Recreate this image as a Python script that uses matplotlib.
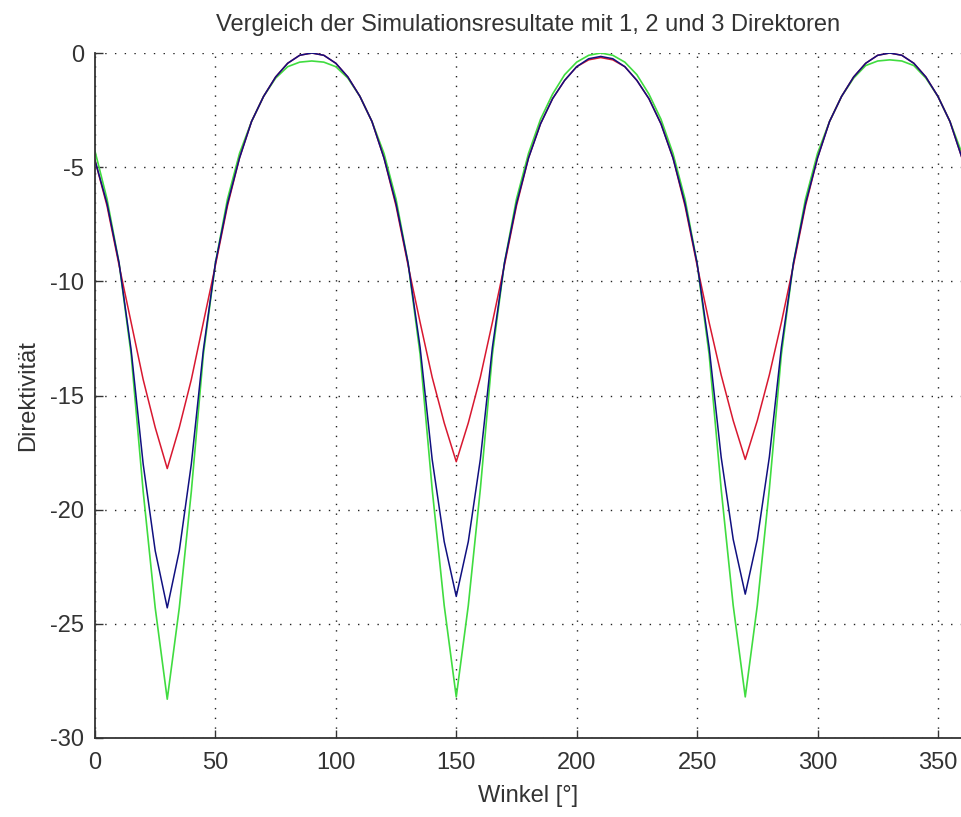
import numpy as np
import matplotlib
matplotlib.use("Agg")
import matplotlib.pyplot as plt

# Winkel in Grad (5 Grad Schritte)
winkel = list(range(0, 365, 5))

# 1 Direktor (rot)
dir1 = [-4.7, -6.7, -9.3, -11.8, -14.3, -16.4, -18.2, -16.4, -14.3, -11.8, -9.3, -6.7,
        -4.6, -3.0, -1.9, -1.05, -0.45, -0.1, 0.0, -0.1, -0.45, -1.05, -1.9, -3.0,
        -4.6, -6.7, -9.3, -11.8, -14.2, -16.2, -17.9, -16.2, -14.2, -11.8, -9.3, -6.7,
        -4.6, -3.1, -2.0, -1.2, -0.6, -0.3, -0.2, -0.3, -0.6, -1.2, -2.0, -3.1,
        -4.6, -6.7, -9.3, -11.8, -14.1, -16.1, -17.8, -16.1, -14.1, -11.8, -9.3, -6.7,
        -4.6, -3.0, -1.9, -1.05, -0.45, -0.1, 0.0, -0.1, -0.45, -1.05, -1.9, -3.0,
        -4.6]

# 2 Direktoren (blau)
dir2 = [-4.7, -6.6, -9.2, -13.0, -18.0, -21.8, -24.3, -21.8, -18.0, -13.0, -9.2, -6.6,
        -4.6, -3.0, -1.9, -1.05, -0.45, -0.1, 0.0, -0.1, -0.45, -1.05, -1.9, -3.0,
        -4.6, -6.6, -9.2, -12.9, -17.8, -21.4, -23.8, -21.4, -17.8, -12.9, -9.2, -6.6,
        -4.6, -3.1, -2.0, -1.2, -0.6, -0.25, -0.15, -0.25, -0.6, -1.2, -2.0, -3.1,
        -4.6, -6.6, -9.2, -12.9, -17.7, -21.3, -23.7, -21.3, -17.7, -12.9, -9.2, -6.6,
        -4.6, -3.0, -1.9, -1.05, -0.45, -0.1, 0.0, -0.1, -0.45, -1.05, -1.9, -3.0,
        -4.6]

# 3 Direktoren (gruen)
dir3 = [-4.3, -6.4, -9.2, -13.2, -19.2, -24.3, -28.3, -24.3, -19.2, -13.2, -9.2, -6.4,
        -4.4, -3.0, -1.9, -1.1, -0.6, -0.4, -0.35, -0.4, -0.6, -1.1, -1.9, -3.0,
        -4.4, -6.4, -9.2, -13.2, -19.1, -24.2, -28.2, -24.2, -19.1, -13.2, -9.2, -6.4,
        -4.4, -2.9, -1.8, -0.95, -0.4, -0.1, 0.0, -0.1, -0.4, -0.95, -1.8, -2.9,
        -4.4, -6.4, -9.2, -13.2, -19.1, -24.2, -28.2, -24.2, -19.1, -13.2, -9.2, -6.4,
        -4.4, -3.0, -1.9, -1.1, -0.55, -0.35, -0.3, -0.35, -0.55, -1.1, -1.9, -3.0,
        -4.4]

xticks = [0, 50, 100, 150, 200, 250, 300, 350]
yticks = [0, -5, -10, -15, -20, -25, -30]

plt.rcParams['font.family'] = ['Liberation Sans', 'DejaVu Sans']
plt.rcParams['axes.unicode_minus'] = False

fig = plt.figure(figsize=(9.61, 8.17), dpi=100)
ax = fig.add_axes([95 / 961, 79 / 817, 867 / 961, 685 / 817])

ax.plot(winkel, dir3, color='#40dc40', linewidth=1.2)
ax.plot(winkel, dir1, color='#d81830', linewidth=1.1)
ax.plot(winkel, dir2, color='#101080', linewidth=1.1)

ax.set_xlim(0, 360)
ax.set_ylim(-30, 0)
ax.set_xticks(xticks)
ax.set_yticks(yticks)

ax.grid(True, color='#222222', linestyle=(0, (1, 6)), linewidth=1.0)
for side in ['top', 'right']:
    ax.spines[side].set_visible(False)
for side in ['left', 'bottom']:
    ax.spines[side].set_linewidth(1.3)
    ax.spines[side].set_color('#333333')

ax.tick_params(direction='in', length=6, width=1.0, labelsize=17,
               colors='#333333')
ax.tick_params(axis='x', pad=10)
ax.tick_params(axis='y', pad=8)

ax.set_title("Vergleich der Simulationsresultate mit 1, 2 und 3 Direktoren",
             fontsize=17, color='#333333', pad=16)
ax.set_xlabel("Winkel [°]", fontsize=17, color='#333333', labelpad=8)
ax.set_ylabel("Direktivität", fontsize=17, color='#333333', labelpad=8)

fig.savefig("out.png", dpi=100)
